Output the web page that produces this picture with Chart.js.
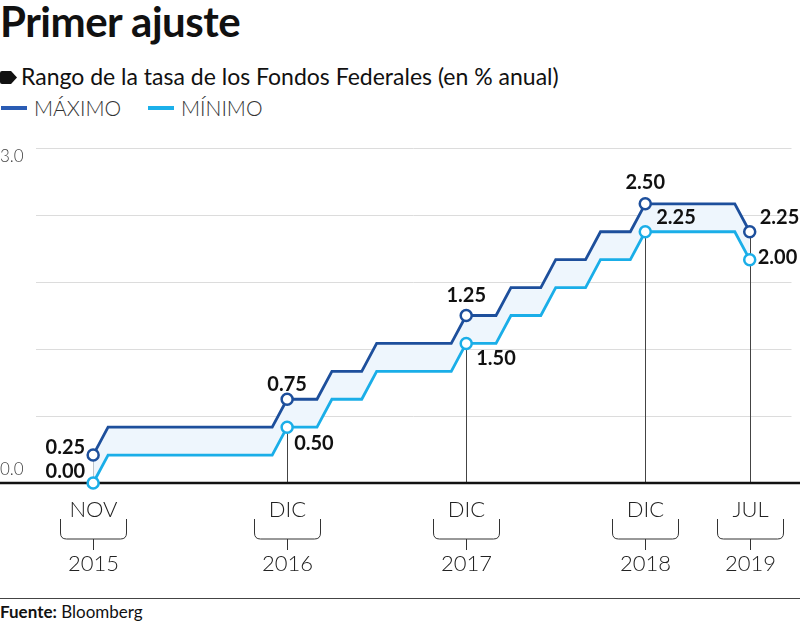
<!DOCTYPE html>
<html>
<head>
<meta charset="utf-8">
<script src="https://cdn.jsdelivr.net/npm/chart.js@4.4.1/dist/chart.umd.min.js"></script>
<style>
  body { margin: 0; width: 800px; height: 624px; position: relative; background: #fff; font-family: Lato, sans-serif; color: #111; overflow: hidden; }
  #title { position: absolute; left: 0; top: -4px; font-weight: 700; font-size: 42px; letter-spacing: -0.5px; }
  #subtitle { position: absolute; left: 0; top: 62px; font-size: 23px; white-space: nowrap; }
  #subtitle .bullet { display: inline-block; width: 17px; height: 13px; background: #111; margin-right: 4px; vertical-align: 1px;
    clip-path: polygon(0 0, 65% 0, 100% 50%, 65% 100%, 0 100%); border-radius: 2px; }
  .leg { position: absolute; top: 95px; font-size: 21px; font-weight: 300; color: #333; white-space: nowrap; }
  .leg i { display: inline-block; width: 26px; height: 4px; margin-right: 7px; vertical-align: 6px; }
  #rule { position: absolute; left: 0; right: 0; top: 598px; border-top: 1px solid #444; }
  #source { position: absolute; left: 0; top: 601px; font-size: 17px; }
  #wrap { position: absolute; left: 0; top: 130px; }
</style>
</head>
<body>
<div id="title">Primer ajuste</div>
<div id="subtitle"><span class="bullet"></span>Rango de la tasa de los Fondos Federales (en % anual)</div>
<div class="leg" style="left:1px"><i style="background:#2a5cb4"></i>MÁXIMO</div>
<div class="leg" style="left:148px"><i style="background:#1cb0ea"></i>MÍNIMO</div>
<div id="wrap"><canvas id="chart" width="800" height="460"></canvas></div>
<div id="rule"></div>
<div id="source"><b>Fuente:</b> Bloomberg</div>
<script>
// meses, nov 2015 - jul 2019
const months = [
  'Nov 2015', 'Dic 2015',
  'Ene 2016', 'Feb 2016', 'Mar 2016', 'Abr 2016', 'May 2016', 'Jun 2016', 'Jul 2016', 'Ago 2016', 'Sep 2016', 'Oct 2016', 'Nov 2016', 'Dic 2016',
  'Ene 2017', 'Feb 2017', 'Mar 2017', 'Abr 2017', 'May 2017', 'Jun 2017', 'Jul 2017', 'Ago 2017', 'Sep 2017', 'Oct 2017', 'Nov 2017', 'Dic 2017',
  'Ene 2018', 'Feb 2018', 'Mar 2018', 'Abr 2018', 'May 2018', 'Jun 2018', 'Jul 2018', 'Ago 2018', 'Sep 2018', 'Oct 2018', 'Nov 2018', 'Dic 2018',
  'Ene 2019', 'Feb 2019', 'Mar 2019', 'Abr 2019', 'May 2019', 'Jun 2019', 'Jul 2019'
];

const maxRate = [
  0.25, 0.50,
  0.50, 0.50, 0.50, 0.50, 0.50, 0.50, 0.50, 0.50, 0.50, 0.50, 0.50, 0.75,
  0.75, 0.75, 1.00, 1.00, 1.00, 1.25, 1.25, 1.25, 1.25, 1.25, 1.25, 1.50,
  1.50, 1.50, 1.75, 1.75, 1.75, 2.00, 2.00, 2.00, 2.25, 2.25, 2.25, 2.50,
  2.50, 2.50, 2.50, 2.50, 2.50, 2.50, 2.25
];

const minRate = [
  0.00, 0.25,
  0.25, 0.25, 0.25, 0.25, 0.25, 0.25, 0.25, 0.25, 0.25, 0.25, 0.25, 0.50,
  0.50, 0.50, 0.75, 0.75, 0.75, 1.00, 1.00, 1.00, 1.00, 1.00, 1.00, 1.25,
  1.25, 1.25, 1.50, 1.50, 1.50, 1.75, 1.75, 1.75, 2.00, 2.00, 2.00, 2.25,
  2.25, 2.25, 2.25, 2.25, 2.25, 2.25, 2.00
];

// puntos destacados y sus etiquetas
const markIdx = [0, 13, 25, 37, 44];
const maxLabels = ['0.25', '0.75', '1.25', '2.50', '2.25'];
const minLabels = ['0.00', '0.50', '1.50', '2.25', '2.00'];
const monthTicks = ['NOV', 'DIC', 'DIC', 'DIC', 'JUL'];
const yearTicks = ['2015', '2016', '2017', '2018', '2019'];
const yTicks = [0, 3];

const DARK = '#1d4f9c';
const LIGHT = '#1aaee8';

// desplazamiento de cada etiqueta respecto de su punto [dx, dy, align]
const maxLabelPos = [[-8, -8, 'right'], [0, -15, 'center'], [0, -20, 'center'], [0, -21, 'center'], [10, -14, 'left']];
const minLabelPos = [[-8, -11, 'right'], [7, 16, 'left'], [10, 15, 'left'], [11, -14, 'left'], [8, -2, 'left']];

const isMark = (c) => markIdx.includes(c.dataIndex);

const extras = {
  id: 'extras',
  beforeDatasetsDraw(chart) {
    const { ctx, scales: { x, y } } = chart;
    const y0 = y.getPixelForValue(0);
    ctx.save();
    ctx.strokeStyle = '#444';
    ctx.lineWidth = 1;
    markIdx.forEach(i => {
      const px = Math.round(x.getPixelForValue(i)) + 0.5;
      ctx.beginPath();
      ctx.moveTo(px, y.getPixelForValue(maxRate[i]));
      ctx.lineTo(px, y0);
      ctx.stroke();
    });
    ctx.strokeStyle = '#111';
    ctx.lineWidth = 2.5;
    ctx.beginPath();
    ctx.moveTo(0, y0);
    ctx.lineTo(chart.width, y0);
    ctx.stroke();
    ctx.restore();
  },
  afterDatasetsDraw(chart) {
    const { ctx, scales: { x, y } } = chart;
    const y0 = y.getPixelForValue(0);
    ctx.save();

    // valores
    ctx.fillStyle = '#111';
    ctx.font = '700 20px Lato';
    ctx.textBaseline = 'middle';
    markIdx.forEach((i, k) => {
      const px = x.getPixelForValue(i);
      let p = maxLabelPos[k];
      ctx.textAlign = p[2];
      ctx.fillText(maxLabels[k], px + p[0], y.getPixelForValue(maxRate[i]) + p[1]);
      p = minLabelPos[k];
      ctx.textAlign = p[2];
      ctx.fillText(minLabels[k], px + p[0], y.getPixelForValue(minRate[i]) + p[1]);
    });

    // eje y
    ctx.fillStyle = '#444';
    ctx.font = '300 17px Lato';
    ctx.textAlign = 'left';
    ctx.fillText(yTicks[1].toFixed(1), 0, y.getPixelForValue(yTicks[1]) + 9);
    ctx.fillText(yTicks[0].toFixed(1), 0, y.getPixelForValue(yTicks[0]) - 13);

    // eje x: mes, llave y año
    ctx.font = '300 22px Lato';
    ctx.textAlign = 'center';
    ctx.strokeStyle = '#333';
    ctx.lineWidth = 1;
    markIdx.forEach((i, k) => {
      const px = Math.round(x.getPixelForValue(i)) + 0.5;
      ctx.fillStyle = '#222';
      ctx.fillText(monthTicks[k], px, y0 + 27);
      const l = px - 33, r = px + 33, t = y0 + 36, b = y0 + 56, rad = 6;
      ctx.beginPath();
      ctx.moveTo(l, t);
      ctx.lineTo(l, b - rad);
      ctx.quadraticCurveTo(l, b, l + rad, b);
      ctx.lineTo(r - rad, b);
      ctx.quadraticCurveTo(r, b, r, b - rad);
      ctx.lineTo(r, t);
      ctx.moveTo(px, b);
      ctx.lineTo(px, b + 11);
      ctx.stroke();
      ctx.fillText(yearTicks[k], px, y0 + 81);
    });
    ctx.restore();
  }
};

new Chart(document.getElementById('chart'), {
  type: 'line',
  data: {
    labels: months,
    datasets: [
      {
        label: 'MÁXIMO',
        data: maxRate.map((v, i) => ({ x: i, y: v })),
        borderColor: DARK,
        backgroundColor: '#eef6fd',
        fill: '+1',
        order: 1,
        borderWidth: 2.8,
        pointRadius: c => isMark(c) ? 5.5 : 0,
        pointHoverRadius: c => isMark(c) ? 6 : 0,
        pointBackgroundColor: '#fff',
        pointBorderColor: DARK,
        pointBorderWidth: 2.5,
        tension: 0,
        clip: false
      },
      {
        label: 'MÍNIMO',
        data: minRate.map((v, i) => ({ x: i, y: v })),
        borderColor: LIGHT,
        backgroundColor: LIGHT,
        fill: false,
        order: 0,
        borderWidth: 2.8,
        pointRadius: c => isMark(c) ? 5.5 : 0,
        pointHoverRadius: c => isMark(c) ? 6 : 0,
        pointBackgroundColor: '#fff',
        pointBorderColor: LIGHT,
        pointBorderWidth: 2.5,
        tension: 0,
        clip: false
      }
    ]
  },
  options: {
    responsive: false,
    animation: false,
    layout: { padding: { left: 36, right: 0, top: 18, bottom: 107 } },
    plugins: {
      legend: { display: false },
      tooltip: { callbacks: { title: items => months[items[0].dataIndex] } }
    },
    scales: {
      x: { type: 'linear', min: -3.83, max: 46.8, display: false },
      y: {
        min: 0, max: 3,
        ticks: { display: false, stepSize: 0.6 },
        border: { display: false },
        grid: { color: '#dcdcdc', lineWidth: 1, drawTicks: false },
        afterFit: s => { s.width = 0; }
      }
    }
  },
  plugins: [extras]
});
</script>
</body>
</html>
